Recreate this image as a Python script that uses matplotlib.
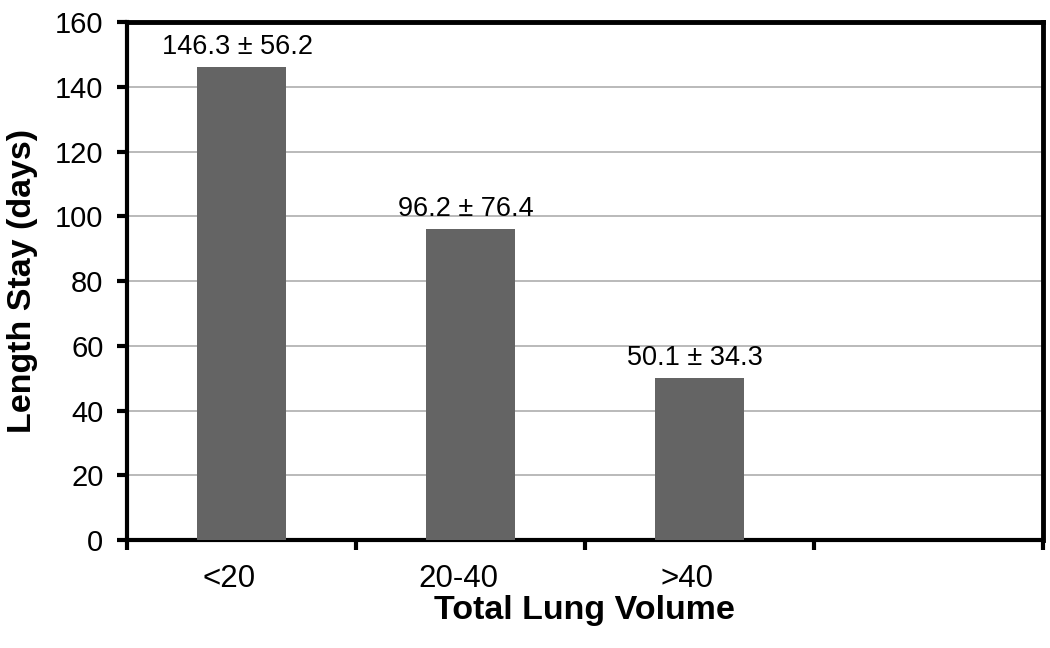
import matplotlib
matplotlib.use('Agg')
import matplotlib.pyplot as plt
import matplotlib.transforms as mtransforms

plt.rcParams['font.family'] = ['Liberation Sans', 'DejaVu Sans']

categories = ['<20', '20-40', '>40']
means = [146.3, 96.2, 50.1]
sds = [56.2, 76.4, 34.3]
n_slots = 4

fig = plt.figure(figsize=(10.5, 6.48), dpi=100)
ax = fig.add_axes([0.121, 0.1667, 0.872, 0.799])

x = list(range(len(categories)))
ax.bar(x, means, width=0.39, color='#646464', zorder=3)

for xi, m, s in zip(x, means, sds):
    ax.annotate(f'{m} \u00b1 {s}', (xi, m), xytext=(-3, 5), textcoords='offset points',
                ha='center', va='bottom', fontsize=19.5, zorder=4)

ax.set_xlim(-0.5, n_slots - 0.5)
ax.set_ylim(0, 160)
ax.set_yticks(range(0, 161, 20))
ax.yaxis.grid(True, color='#b4b4b4', linewidth=1.3, zorder=0)

ax.set_xticks([i - 0.5 for i in range(n_slots + 1)])
ax.set_xticklabels([])
ax.set_xticks(x, minor=True)
ax.set_xticklabels(categories, minor=True)
ax.tick_params(axis='x', which='minor', length=0, pad=17, labelsize=22.5)
ax.tick_params(axis='x', which='major', length=7, width=3, direction='out')
ax.tick_params(axis='y', length=7, width=3, direction='out', pad=10, labelsize=21)

# category labels sit a little left of the bar centres in the original
off = mtransforms.ScaledTranslation(-12 / 100, 0, fig.dpi_scale_trans)
for lab in ax.get_xticklabels(minor=True):
    lab.set_transform(lab.get_transform() + off)

for side in ['left', 'bottom']:
    ax.spines[side].set_linewidth(3)
for side in ['top', 'right']:
    ax.spines[side].set_linewidth(3.5)

ax.set_ylabel('Length Stay (days)', fontsize=24.5, fontweight='bold', labelpad=12)
ax.set_xlabel('Total Lung Volume', fontsize=24.5, fontweight='bold', labelpad=1)

fig.savefig('out.png', dpi=100)
